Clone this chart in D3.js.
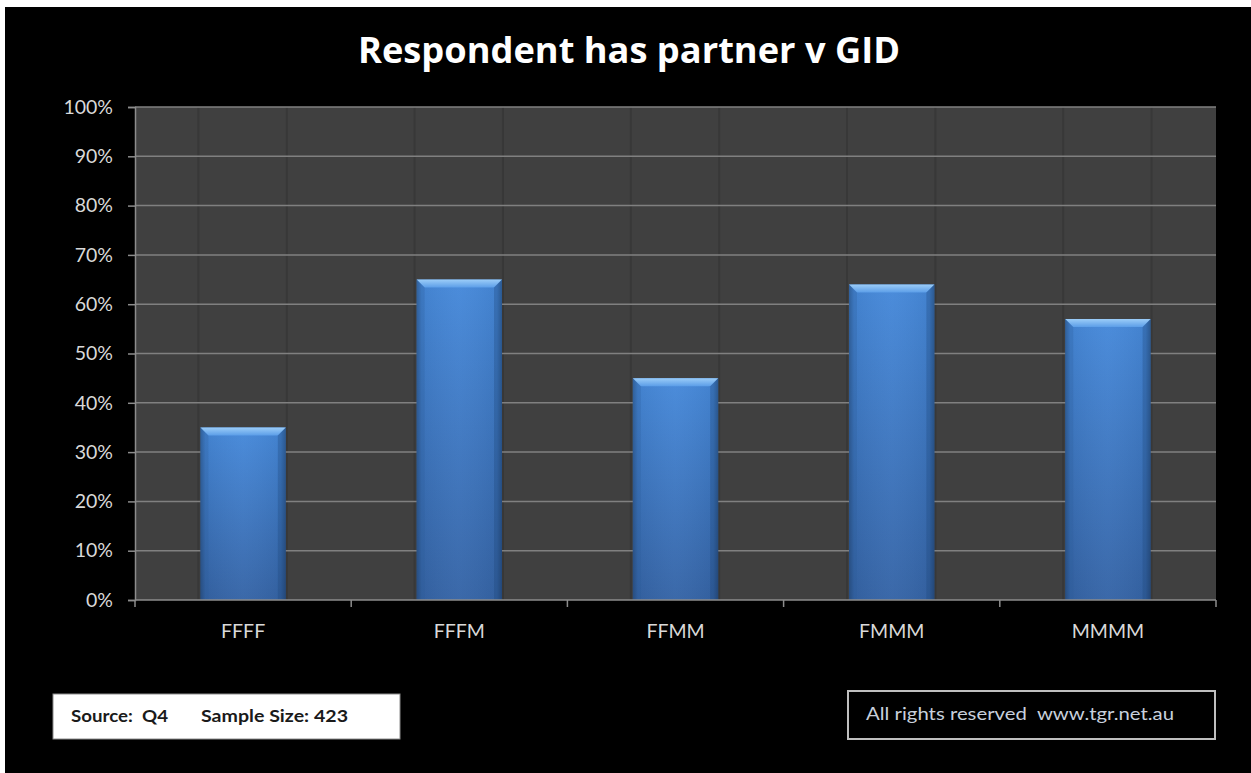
<!DOCTYPE html>
<html>
<head>
<meta charset="utf-8">
<script src="https://cdn.jsdelivr.net/npm/d3@7"></script>
<style>
  html, body { margin: 0; padding: 0; background: #ffffff; }
  svg { display: block; }
  text { white-space: pre; }
</style>
</head>
<body>
<script>
const categories = ["FFFF", "FFFM", "FFMM", "FMMM", "MMMM"];
const values = [0.35, 0.65, 0.45, 0.64, 0.57];
const yTicks = [0, 0.1, 0.2, 0.3, 0.4, 0.5, 0.6, 0.7, 0.8, 0.9, 1.0];
const titleText = "Respondent has partner v GID";
const sourceText = "Source:  Q4";
const sampleText = "Sample Size: 423";
const rightsText = "All rights reserved  www.tgr.net.au";

const W = 1251, H = 773;
const FONT = "Lato, 'Open Sans', sans-serif";
const svg = d3.select("body").append("svg").attr("width", W).attr("height", H);

const defs = svg.append("defs");
const gV = defs.append("linearGradient").attr("id", "barV").attr("x1", 0).attr("y1", 0).attr("x2", 0).attr("y2", 1);
gV.append("stop").attr("offset", "0%").attr("stop-color", "#4689da");
gV.append("stop").attr("offset", "100%").attr("stop-color", "#3564a6");
const gH = defs.append("linearGradient").attr("id", "barH").attr("x1", 0).attr("y1", 0).attr("x2", 1).attr("y2", 0);
gH.append("stop").attr("offset", "0%").attr("stop-color", "#000").attr("stop-opacity", 0.28);
gH.append("stop").attr("offset", "6%").attr("stop-color", "#000").attr("stop-opacity", 0.05);
gH.append("stop").attr("offset", "50%").attr("stop-color", "#fff").attr("stop-opacity", 0.03);
gH.append("stop").attr("offset", "94%").attr("stop-color", "#000").attr("stop-opacity", 0.05);
gH.append("stop").attr("offset", "100%").attr("stop-color", "#000").attr("stop-opacity", 0.28);
const gTop = defs.append("linearGradient").attr("id", "barTop").attr("x1", 0).attr("y1", 0).attr("x2", 0).attr("y2", 1);
gTop.append("stop").attr("offset", "0%").attr("stop-color", "#9ccdf8");
gTop.append("stop").attr("offset", "100%").attr("stop-color", "#5c9ee8");

// black background (with white margin at top/left)
svg.append("rect").attr("x", 5).attr("y", 7).attr("width", W - 5).attr("height", H - 7).attr("fill", "#000");

const m = { left: 135, right: 1216, top: 107, bottom: 600 };
const x = d3.scaleBand().domain(categories).range([m.left, m.right]).paddingInner(0.605).paddingOuter(0.3025);
const y = d3.scaleLinear().domain([0, 1]).range([m.bottom, m.top]);

// plot area
svg.append("rect").attr("x", m.left).attr("y", m.top).attr("width", m.right - m.left).attr("height", m.bottom - m.top).attr("fill", "#404040");

// faint vertical lines at bar edges
const vEdges = [];
categories.forEach(c => { vEdges.push(x(c) - 2); vEdges.push(x(c) + x.bandwidth() + 1); });
svg.append("g").selectAll("line").data(vEdges).join("line")
  .attr("x1", d => d).attr("x2", d => d).attr("y1", m.top).attr("y2", m.bottom)
  .attr("stroke", "#383838").attr("stroke-width", 2);

// horizontal grid
svg.append("g").selectAll("line").data(yTicks.slice(1)).join("line")
  .attr("x1", m.left).attr("x2", m.right).attr("y1", d => y(d)).attr("y2", d => y(d))
  .attr("stroke", "#808080").attr("stroke-width", 1.5);

// bars
const bars = svg.append("g").selectAll("g").data(categories).join("g");
bars.append("rect")
  .attr("x", d => x(d)).attr("width", x.bandwidth())
  .attr("y", (d, i) => y(values[i])).attr("height", (d, i) => y(0) - y(values[i]))
  .attr("fill", "url(#barV)");
bars.append("rect")
  .attr("x", d => x(d)).attr("width", x.bandwidth())
  .attr("y", (d, i) => y(values[i])).attr("height", (d, i) => y(0) - y(values[i]))
  .attr("fill", "url(#barH)");
const bev = 8;
bars.append("path")
  .attr("d", (d, i) => {
    const x0 = x(d), x1 = x(d) + x.bandwidth(), t = y(values[i]);
    return `M${x0},${t}L${x1},${t}L${x1 - bev},${t + bev}L${x0 + bev},${t + bev}Z`;
  })
  .attr("fill", "url(#barTop)");
bars.append("path")
  .attr("d", (d, i) => {
    const x0 = x(d), t = y(values[i]);
    return `M${x0},${t}L${x0 + bev},${t + bev}L${x0 + bev},${y(0)}L${x0},${y(0)}Z`;
  })
  .attr("fill", "#2d5a99").attr("opacity", 0.25);
bars.append("path")
  .attr("d", (d, i) => {
    const x1 = x(d) + x.bandwidth(), t = y(values[i]);
    return `M${x1},${t}L${x1 - bev},${t + bev}L${x1 - bev},${y(0)}L${x1},${y(0)}Z`;
  })
  .attr("fill", "#1f4478").attr("opacity", 0.3);

// y axis
const yAxis = d3.axisLeft(y).tickValues(yTicks).tickFormat(d3.format(".0%")).tickSize(7).tickPadding(15);
const gy = svg.append("g").attr("transform", `translate(${m.left},0)`).call(yAxis);
gy.select(".domain").attr("stroke", "#8c8c8c").attr("stroke-width", 1.5);
gy.selectAll(".tick line").attr("stroke", "#8c8c8c").attr("stroke-width", 1.5);
gy.selectAll(".tick text").attr("fill", "#d9d9d9").attr("font-family", FONT).attr("font-size", 19.5);

// x axis
const xAxis = d3.axisBottom(x).tickSize(0).tickPadding(24);
const gx = svg.append("g").attr("transform", `translate(0,${m.bottom})`).call(xAxis);
gx.select(".domain").attr("stroke", "#8c8c8c").attr("stroke-width", 1.5).attr("d", `M${m.left},0H${m.right}`);
gx.selectAll(".tick text").attr("fill", "#d9d9d9").attr("font-family", FONT).attr("font-size", 19.5);
const boundaries = d3.range(categories.length + 1).map(i => m.left + i * (m.right - m.left) / categories.length);
svg.append("g").selectAll("line").data(boundaries).join("line")
  .attr("x1", d => d).attr("x2", d => d).attr("y1", m.bottom).attr("y2", m.bottom + 7)
  .attr("stroke", "#8c8c8c").attr("stroke-width", 1.5);

// title
svg.append("text").attr("x", 629).attr("y", 63).attr("text-anchor", "middle")
  .attr("fill", "#ffffff").attr("font-family", "'Open Sans', Lato, sans-serif").attr("font-weight", "bold").attr("font-size", 35)
  .attr("textLength", 542).attr("lengthAdjust", "spacingAndGlyphs")
  .text(titleText);

// source box
svg.append("rect").attr("x", 53).attr("y", 694).attr("width", 347).attr("height", 45)
  .attr("fill", "#ffffff").attr("stroke", "#8c8c8c").attr("stroke-width", 1);
svg.append("text").attr("x", 71).attr("y", 722).attr("fill", "#1a1a1a")
  .attr("font-family", FONT).attr("font-weight", "bold").attr("font-size", 17.5)
  .attr("textLength", 97).attr("lengthAdjust", "spacingAndGlyphs")
  .text(sourceText);
svg.append("text").attr("x", 201).attr("y", 722).attr("fill", "#1a1a1a")
  .attr("font-family", FONT).attr("font-weight", "bold").attr("font-size", 17.5)
  .attr("textLength", 147).attr("lengthAdjust", "spacingAndGlyphs")
  .text(sampleText);

// rights box
svg.append("rect").attr("x", 848).attr("y", 691).attr("width", 367).attr("height", 48)
  .attr("fill", "#000").attr("stroke", "#bfbfbf").attr("stroke-width", 2);
svg.append("text").attr("x", 866).attr("y", 720).attr("fill", "#c8d0dc")
  .attr("font-family", FONT).attr("font-size", 17.5)
  .attr("textLength", 308).attr("lengthAdjust", "spacingAndGlyphs")
  .text(rightsText);
</script>
</body>
</html>
